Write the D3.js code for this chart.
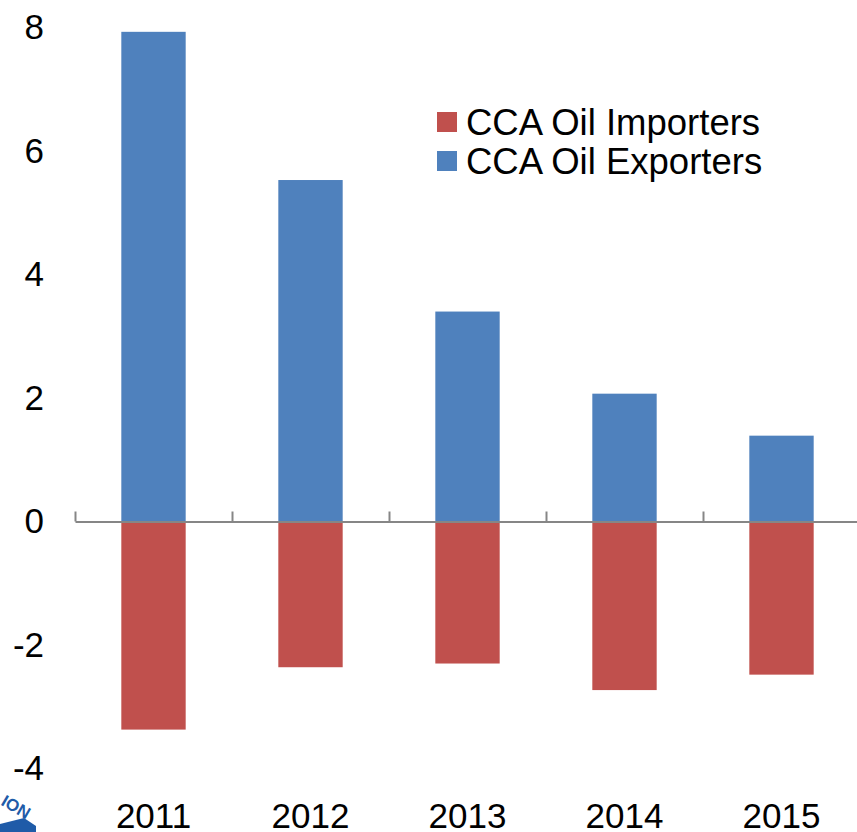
<!DOCTYPE html>
<html lang="en">
<head>
    <meta charset="UTF-8">
    <title>CCA Oil Importers vs Exporters</title>
    <script src="https://d3js.org/d3.v7.min.js"></script>
    <style>
        body { margin: 0; background: #fff; }
        text { font-family: "Liberation Sans", Arial, sans-serif; fill: #000; }
    </style>
</head>
<body>
    <div id="chart"></div>

    <script>
        // data
        const years = ["2011", "2012", "2013", "2014", "2015"];
        const importers = [-3.37, -2.36, -2.30, -2.73, -2.48];
        const exporters = [7.93, 5.53, 3.40, 2.07, 1.39];
        const yTicks = [-4, -2, 0, 2, 4, 6, 8];
        const seriesNames = ["CCA Oil Importers", "CCA Oil Exporters"];
        const seriesColors = ["#C0504D", "#4F81BD"];

        const width = 857;
        const height = 832;

        const svg = d3.select("#chart")
            .append("svg")
            .attr("width", width)
            .attr("height", height);

        const x = d3.scaleBand()
            .domain(years)
            .range([75, 860])
            .paddingInner(0.59)
            .paddingOuter(0.295);

        const y = d3.scaleLinear()
            .domain([-4, 8])
            .range([768.5, 27.5]);

        // bars
        svg.append("g")
            .selectAll("rect")
            .data(years.map((d, i) => ({ year: d, v: exporters[i] })))
            .enter().append("rect")
            .attr("x", d => x(d.year))
            .attr("y", d => y(d.v))
            .attr("width", x.bandwidth())
            .attr("height", d => y(0) - y(d.v))
            .attr("fill", seriesColors[1]);

        svg.append("g")
            .selectAll("rect")
            .data(years.map((d, i) => ({ year: d, v: importers[i] })))
            .enter().append("rect")
            .attr("x", d => x(d.year))
            .attr("y", y(0))
            .attr("width", x.bandwidth())
            .attr("height", d => y(d.v) - y(0))
            .attr("fill", seriesColors[0]);

        // zero axis line with upward ticks at category boundaries
        const xEdge = d3.scaleLinear().domain([0, years.length]).range([75, 860]);
        const zeroAxis = svg.append("g")
            .attr("transform", `translate(0,${y(0)})`)
            .call(d3.axisBottom(xEdge)
                .tickValues(d3.range(years.length))
                .tickSizeInner(-10)
                .tickSizeOuter(0)
                .tickFormat(""));
        zeroAxis.selectAll("path, line")
            .attr("stroke", "#868686")
            .attr("stroke-width", 2);

        // y labels (plain hyphen for negatives)
        const yAxis = svg.append("g")
            .attr("transform", "translate(44,0)")
            .call(d3.axisLeft(y).tickValues(yTicks).tickSize(0).tickPadding(0)
                .tickFormat(d => String(d)));
        yAxis.select(".domain").remove();
        yAxis.selectAll("text")
            .attr("font-family", "Liberation Sans, Arial, sans-serif")
            .attr("font-size", 35)
            .attr("fill", "#000");

        // year labels
        const xAxis = svg.append("g")
            .attr("transform", "translate(0,803)")
            .call(d3.axisBottom(x).tickSize(0).tickPadding(0));
        xAxis.select(".domain").remove();
        xAxis.selectAll("text")
            .attr("font-family", "Liberation Sans, Arial, sans-serif")
            .attr("font-size", 35)
            .attr("fill", "#000");

        // legend
        const legend = svg.append("g")
            .attr("transform", "translate(437,112)");
        seriesNames.forEach((name, i) => {
            const row = legend.append("g").attr("transform", `translate(0,${i * 39})`);
            row.append("rect")
                .attr("width", 20)
                .attr("height", 20)
                .attr("fill", seriesColors[i]);
            row.append("text")
                .attr("x", 29)
                .attr("y", 10)
                .attr("dy", "0.36em")
                .attr("font-size", 36.5)
                .text(name);
        });

        // partial logo in the corner
        const logo = svg.append("g").attr("transform", "translate(0,790)");
        logo.append("path")
            .attr("d", "M0,34 L24,28 L36,36 L36,42 L0,42 Z")
            .attr("fill", "#1F5BA8");
        logo.append("text")
            .attr("x", 0)
            .attr("y", 22)
            .attr("transform", "rotate(30,14,18)")
            .attr("font-family", "Liberation Serif, serif")
            .attr("font-weight", "bold")
            .attr("font-size", 17)
            .style("fill", "#1F5BA8")
            .text("ION");
    </script>
</body>
</html>
